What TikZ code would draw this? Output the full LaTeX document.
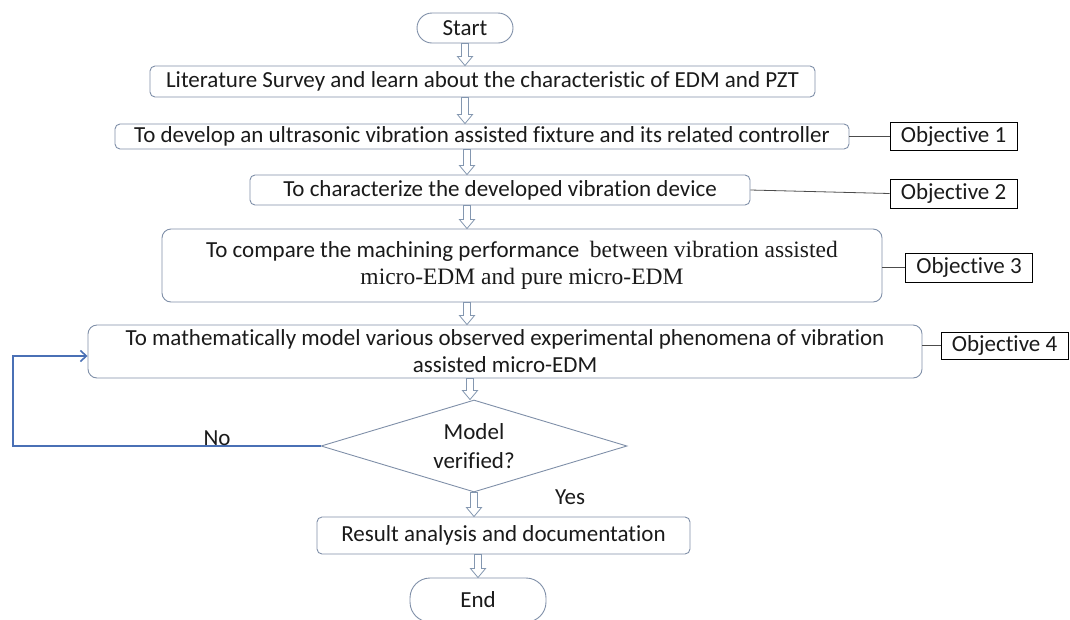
\documentclass[tikz,border=0pt]{standalone}
\usepackage{fontspec}
\setmainfont{Carlito}[Ligatures={NoCommon}]
\newfontfamily\tnr{Liberation Serif}
\usetikzlibrary{shapes.geometric,arrows.meta,calc}
\definecolor{boxc}{HTML}{7F8FA8}
\definecolor{arrc}{HTML}{8497B0}
\definecolor{fbcol}{HTML}{4A70B5}
\definecolor{txt}{HTML}{1A1A1A}
\begin{document}
\begin{tikzpicture}[x=1pt,y=-1pt,
 every node/.style={text=txt, font=\fontsize{23}{27}\selectfont},
 procbox/.style={draw=boxc, line width=0.9pt, rounded corners=5pt, inner sep=0pt, align=center},
 termbox/.style={draw=boxc, line width=0.9pt, inner sep=0pt},
 objbox/.style={draw=black, line width=0.8pt, inner sep=0pt, minimum width=127pt},
 objline/.style={draw=black!70, line width=0.8pt},
 blockarrow/.style={draw=arrc, fill=white, line width=0.8pt,
   to path={let \p1=(\tikztostart), \p2=(\tikztotarget) in
     (\x1-3.5pt,\y1) -- (\x1-3.5pt,\y2+9pt) -- (\x1-7.5pt,\y2+9pt) -- (\x1,\y2)
     -- (\x1+7.5pt,\y2+9pt) -- (\x1+3.5pt,\y2+9pt) -- (\x1+3.5pt,\y1) -- cycle}},
 fbline/.style={draw=fbcol, line width=1.6pt, -{Straight Barb[length=6pt,width=11pt]}}
]
\useasboundingbox (0,0) rectangle (1070,619);

% process nodes
\node[termbox, rounded corners=15pt, minimum width=96pt, minimum height=30pt] (start) at (465,28) {Start};
\node[procbox, minimum width=665pt, minimum height=31pt] (b1) at (482.5,81.5)
  {Literature Survey and learn about the characteristic of EDM and PZT};
\node[procbox, minimum width=734pt, minimum height=25pt] (b2) at (482,136.5)
  {To develop an ultrasonic vibration assisted fixture and its related controller};
\node[procbox, minimum width=500pt, minimum height=30pt] (b3) at (500,190)
  {To characterize the developed vibration device};
\node[procbox, rounded corners=9pt, minimum width=720pt, minimum height=73pt] (b4) at (522,265.5)
  {To compare the machining performance\ \ {\tnr\fontsize{23.5}{27}\selectfont between vibration assisted}\\
   {\tnr\fontsize{23.5}{27}\selectfont micro-EDM and pure micro-EDM}};
\node[procbox, rounded corners=9pt, minimum width=834pt, minimum height=53pt] (b5) at (505,351.5)
  {To mathematically model various observed experimental phenomena of vibration\\assisted micro-EDM};
\node[diamond, draw=boxc, line width=0.9pt, inner sep=0pt, aspect=3.33, align=center,
  font=\fontsize{23}{29}\selectfont,
  minimum width=306pt, minimum height=92pt] (dia) at (474,446) {Model\\verified?};
\node[procbox, minimum width=373pt, minimum height=37pt] (res) at (503.5,535.5)
  {Result analysis and documentation};
\node[termbox, rounded corners=20pt, minimum width=136pt, minimum height=44pt] (end) at (478,600) {End};

% objectives
\node[objbox, minimum height=28pt] (o1) at (953.5,136) {Objective 1};
\node[objbox, minimum height=29pt] (o2) at (953.5,193.5) {Objective 2};
\node[objbox, minimum height=29pt] (o3) at (969,267.5) {Objective 3};
\node[objbox, minimum height=27pt] (o4) at (1004.5,345.5) {Objective 4};

\draw[objline] (b2.east |- o1.west) -- (o1.west);
\draw[objline] (b3.east) -- (o2.west);
\draw[objline] (b4.east |- o3.west) -- (o3.west);
\draw[objline] (b5.east |- o4.west) -- (o4.west);

% block arrows
\draw[blockarrow] (start.south) to (b1.north -| start.south);
\draw[blockarrow] (b1.south -| start.south) to (b2.north -| start.south);
\draw[blockarrow] ([xshift=2pt]b2.south -| start.south) to ([xshift=2pt]b3.north -| start.south);
\draw[blockarrow] ([xshift=2pt]b3.south -| start.south) to ([xshift=2pt]b4.north -| start.south);
\draw[blockarrow] ([xshift=2pt]b4.south -| start.south) to ([xshift=2pt]b5.north -| start.south);
\draw[blockarrow] ([xshift=-4pt]b5.south -| dia.north) to ([xshift=-4pt]dia.north);
\draw[blockarrow] (dia.south) to (res.north -| dia.south);
\draw[blockarrow] (res.south -| end.north) to (end.north);

% feedback loop
\coordinate (fbl) at (13,446);
\draw[fbline] (dia.west) -- (fbl) |- ([yshift=-4.5pt]b5.west);

% labels
\node (no) at (217,438) {No};
\node (yes) at (570,497) {Yes};
\end{tikzpicture}
\end{document}
